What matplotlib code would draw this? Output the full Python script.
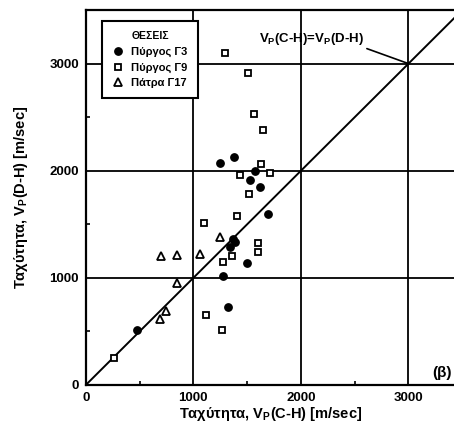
import matplotlib
matplotlib.use('Agg')
import matplotlib.pyplot as plt
from matplotlib.ticker import MultipleLocator

plt.rcParams['font.family'] = ['Liberation Sans', 'DejaVu Sans']
plt.rcParams['font.weight'] = 'bold'
plt.rcParams['mathtext.fontset'] = 'custom'
plt.rcParams['mathtext.rm'] = 'Liberation Sans:bold'
plt.rcParams['mathtext.bf'] = 'Liberation Sans:bold'
plt.rcParams['mathtext.it'] = 'Liberation Sans:bold'

# Πύργος Γ3 (filled circles)
g3_ch = [475, 1280, 1325, 1500, 1390, 1345, 1370, 1250, 1380, 1575, 1530, 1615, 1690]
g3_dh = [515, 1020, 730, 1140, 1335, 1290, 1360, 2075, 2130, 2000, 1915, 1850, 1600]

# Πύργος Γ9 (open squares)
g9_ch = [260, 1270, 1120, 1280, 1360, 1605, 1605, 1100, 1405, 1520, 1435, 1630, 1710,
         1560, 1650, 1510, 1295]
g9_dh = [250, 515, 655, 1150, 1200, 1245, 1325, 1515, 1580, 1785, 1960, 2065, 1980,
         2530, 2380, 2915, 3100]

# Πάτρα Γ17 (open triangles)
p17_ch = [690, 745, 850, 700, 850, 1065, 1250]
p17_dh = [617, 690, 955, 1205, 1215, 1225, 1380]

ticks = [0, 1000, 2000, 3000]

fig = plt.figure(figsize=(4.54, 4.28), dpi=100)
ax = fig.add_axes([0.189, 0.1005, 0.815, 0.876])

for v in ticks[1:]:
    ax.axvline(v, color='black', lw=1.3, zorder=1)
    ax.axhline(v, color='black', lw=1.3, zorder=1)

ax.plot([0, 3500], [0, 3500], color='black', lw=1.4, zorder=2)

ax.plot(g3_ch, g3_dh, 'o', ms=5.3, mfc='black', mec='black', ls='none',
        label='Πύργος Γ3', zorder=3)
ax.plot(g9_ch, g9_dh, 's', ms=4.8, mfc='white', mec='black', mew=1.3, ls='none',
        label='Πύργος Γ9', zorder=3)
ax.plot(p17_ch, p17_dh, '^', ms=5.3, mfc='white', mec='black', mew=1.3, ls='none',
        label='Πάτρα Γ17', zorder=3)

ax.annotate(r'V$_P$(C-H)=V$_P$(D-H)', xy=(3000, 3000), xytext=(2100, 3230),
            ha='center', va='center', fontsize=9.5, fontweight='bold',
            arrowprops=dict(arrowstyle='-', color='black', lw=1.2,
                            shrinkA=0, shrinkB=0, relpos=(0.92, 0.15)))
ax.text(3310, 110, '(β)', ha='center', va='center', fontsize=11, fontweight='bold')

ax.set_xlim(0, 3440)
ax.set_ylim(0, 3500)
ax.set_xticks(ticks)
ax.set_yticks(ticks)
ax.xaxis.set_minor_locator(MultipleLocator(500))
ax.yaxis.set_minor_locator(MultipleLocator(500))
ax.tick_params(which='major', direction='in', length=0, labelsize=9.5, pad=5)
ax.tick_params(which='minor', direction='in', length=3, width=1.2)
for lab in ax.get_xticklabels() + ax.get_yticklabels():
    lab.set_fontweight('bold')
for s in ax.spines.values():
    s.set_linewidth(1.6)

ax.set_xlabel(r'Ταχύτητα, V$_P$(C-H) [m/sec]', fontsize=10.5, fontweight='bold', labelpad=1)
ax.set_ylabel(r'Ταχύτητα, V$_P$(D-H) [m/sec]', fontsize=10.5, fontweight='bold', labelpad=14)

leg = ax.legend(loc='upper left', bbox_to_anchor=(0.045, 0.97), title='ΘΕΣΕΙΣ',
                fontsize=8, title_fontsize=7.5, frameon=True, fancybox=False,
                framealpha=1, handletextpad=0.7, handlelength=1.0, borderpad=0.9,
                labelspacing=0.5, borderaxespad=0)
leg.get_frame().set_edgecolor('black')
leg.get_frame().set_linewidth(1.5)
leg.get_title().set_fontweight('bold')
leg.set_zorder(5)

fig.savefig('out.png', dpi=100)
